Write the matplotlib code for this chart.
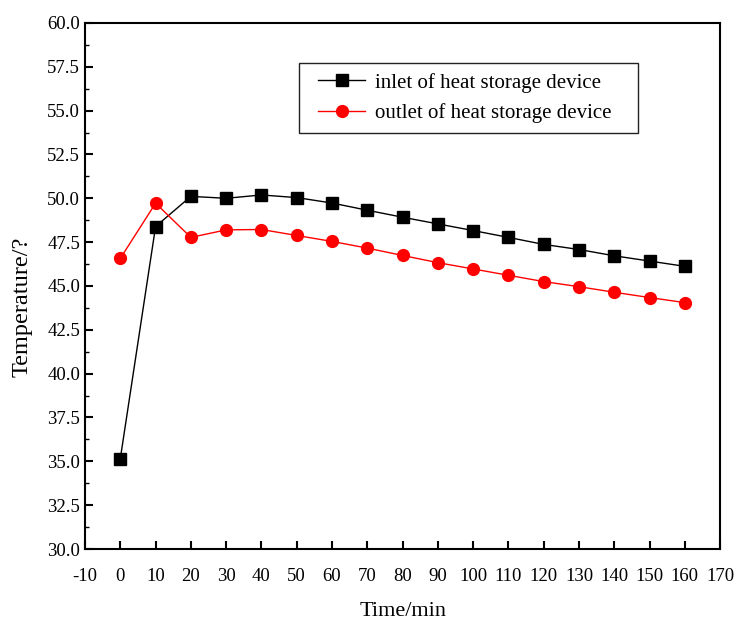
import matplotlib
matplotlib.use("Agg")
import matplotlib.pyplot as plt
from matplotlib.ticker import MultipleLocator
from matplotlib.patches import Rectangle

plt.rcParams['font.family'] = ['Liberation Serif', 'DejaVu Serif']
plt.rcParams['axes.unicode_minus'] = False

# time (min)
time_min = [0, 10, 20, 30, 40, 50, 60, 70, 80, 90, 100, 110, 120, 130, 140, 150, 160]

# temperatures
inlet = [35.15, 48.39, 50.11, 50.0, 50.19, 50.04, 49.73, 49.32, 48.92, 48.54,
         48.16, 47.77, 47.37, 47.08, 46.72, 46.42, 46.12]
outlet = [46.57, 49.72, 47.77, 48.2, 48.22, 47.88, 47.54, 47.16, 46.74, 46.33,
          45.97, 45.61, 45.25, 44.96, 44.64, 44.34, 44.05]

fig = plt.figure(figsize=(7.36, 6.2), dpi=100)
ax = fig.add_axes([0.1155, 0.1145, 0.863, 0.8485])

ax.plot(time_min, inlet, color='black', lw=1, marker='s', markersize=8,
        label='inlet of heat storage device')
ax.plot(time_min, outlet, color='red', lw=1, marker='o', markersize=8.5,
        label='outlet of heat storage device')

ax.set_xlim(-10, 170)
ax.set_ylim(30, 60)
ax.xaxis.set_major_locator(MultipleLocator(10))
ax.yaxis.set_major_locator(MultipleLocator(2.5))
ax.yaxis.set_minor_locator(MultipleLocator(1.25))
ax.yaxis.set_major_formatter(matplotlib.ticker.FormatStrFormatter('%.1f'))

ax.tick_params(which='major', direction='in', length=6, width=1.5, labelsize=13.5)
ax.tick_params(which='minor', direction='in', length=3, width=1)
ax.tick_params(axis='x', pad=14)
for s in ax.spines.values():
    s.set_linewidth(1.5)

ax.set_xlabel('Time/min', fontsize=16, labelpad=12)
ax.set_ylabel('Temperature/?', fontsize=17.5)
ax.yaxis.set_label_coords(-0.083, 0.46)

# legend without frame, then a wider box drawn around it
leg = ax.legend(loc='upper left', bbox_to_anchor=(0.352, 0.924), fontsize=15,
                frameon=False, borderaxespad=0, handlelength=2.25,
                handletextpad=0.48, borderpad=0.47, labelspacing=0.5)
fig.canvas.draw()
bb = leg.get_window_extent()
inv = fig.transFigure.inverted()
(x0, y0), (x1, y1) = inv.transform([[bb.x0 - 10, bb.y0], [bb.x1 + 16, bb.y1]])
fig.patches.append(Rectangle((x0, y0), x1 - x0, y1 - y0, transform=fig.transFigure,
                             fill=False, edgecolor='#222222', lw=1, zorder=5))

fig.savefig('out.png', dpi=100)
